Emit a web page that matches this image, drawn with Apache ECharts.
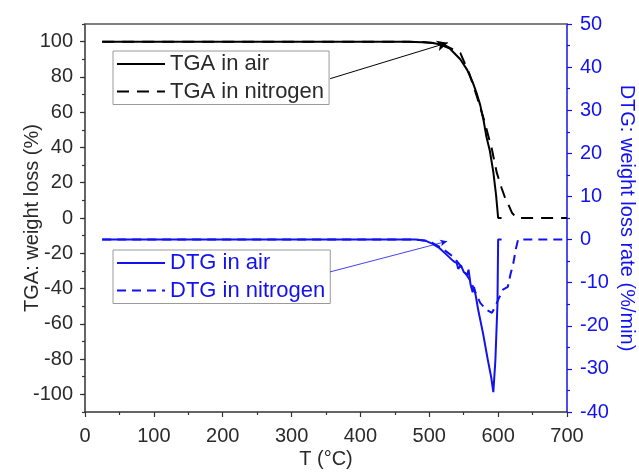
<!DOCTYPE html>
<html><head><meta charset="utf-8">
<script src="https://cdn.jsdelivr.net/npm/echarts@6/dist/echarts.min.js"></script>
<style>html,body{margin:0;padding:0;background:#fff}#c{width:639px;height:472px}</style>
</head><body><div id="c"></div>
<script>
// ---- data ----
const tgaAirT = [25, 100, 200, 300, 400, 450, 470, 490, 505, 515, 530, 545, 555, 563, 569, 574, 579, 583, 588, 593, 597, 600, 605];
const tgaAirV = [100, 100, 100, 100, 100, 100, 99.9, 99.7, 99.2, 98.5, 96, 90, 84, 77, 70.5, 64, 55, 46, 38, 26, 13, 0, 0];
const tgaN2T = [25, 100, 200, 300, 400, 450, 470, 490, 510, 525, 545, 558, 569, 580, 591, 598, 605, 610, 615, 620, 627, 640, 700];
const tgaN2V = [100, 100, 100, 100, 100, 100, 99.9, 99.8, 99.2, 97.5, 93.6, 82, 69, 55, 38.8, 25.7, 17, 11.5, 7.5, 3, 0, 0, 0];
const dtgAirT = [25, 100, 200, 300, 400, 480, 495, 505, 515, 525, 535, 540, 542, 546, 550, 555, 557, 560, 563, 565, 568, 571, 578, 585, 590, 593, 596, 599, 600, 605];
const dtgAirV = [0, 0, 0, 0, 0, 0, -0.3, -1, -2, -3.5, -5, -5.5, -6.8, -6, -7.5, -8.2, -7, -10.5, -12.2, -11, -13.5, -16.3, -21.7, -27.9, -32, -35.4, -28, -15, 0, 0];
const dtgN2T = [25, 100, 200, 300, 400, 480, 495, 505, 515, 525, 535, 545, 559, 565, 574, 583, 591, 596, 600, 607, 614, 618, 622, 626, 629, 700];
const dtgN2V = [0, 0, 0, 0, 0, 0, -0.3, -0.8, -1.7, -2.8, -4, -6, -9.4, -11.5, -14.7, -16.3, -17, -15.5, -14, -11.6, -11, -8, -5.5, -2, 0, 0];
// x axis / y axis ranges and ticks
const xRange = [0, 700, 100];
const tgaRange = [-100, 100, 20];
const dtgRange = [-40, 50, 10];
// legend labels and axis titles
const seriesNames = ['TGA in air', 'TGA in nitrogen', 'DTG in air', 'DTG in nitrogen'];
const axisTitles = ['T (°C)', 'TGA: weight loss (%)', 'DTG: weight loss rate (%/min)'];
// annotation arrows (data coordinates): [fromT, fromV, toT, toV]
const tgaArrow = [356, 79, 527, 99.4];
const dtgArrow = [356, -7.5, 526, -0.4];

const zip = (a, b) => a.map((v, i) => [v, b[i]]);
const FONT = 'Liberation Sans, Arial, sans-serif';
const BLUE = '#1212f0';
const DARK = '#2a2a2a';

const chart = echarts.init(document.getElementById('c'), null, {renderer: 'canvas'});
const G = {left: 85, right: 72, top: 24, bottom: 60};
const gh = 472 - G.top - G.bottom;
const pad = gh * 10 / 220;

const legendBase = {
  left: 113, orient: 'vertical', borderColor: '#9a9a9a', borderWidth: 1, padding: [2, 5, 2, 3],
  itemWidth: 48, itemHeight: 14, itemGap: 5.5, itemStyle: {opacity: 0}, selectedMode: false
};

chart.setOption({
  animation: false,
  textStyle: {fontFamily: FONT},
  grid: [
    {left: G.left, right: G.right, top: G.top, bottom: G.bottom, containLabel: false, outerBoundsMode: 'none'},
    {left: G.left, right: G.right, top: G.top + pad, bottom: G.bottom + pad, containLabel: false, outerBoundsMode: 'none'}
  ],
  legend: [
    Object.assign({}, legendBase, {data: [seriesNames[0], seriesNames[1]], top: 51,
      textStyle: {fontSize: 22, lineHeight: 22, color: DARK, fontFamily: FONT}}),
    Object.assign({}, legendBase, {data: [seriesNames[2], seriesNames[3]], top: 250,
      textStyle: {fontSize: 22, lineHeight: 22, color: BLUE, fontFamily: FONT}})
  ],
  xAxis: [
    {gridIndex: 0, type: 'value', min: xRange[0], max: xRange[1], interval: xRange[2],
     axisLine: {onZero: false, lineStyle: {color: '#333', width: 1.5}},
     axisTick: {length: 5, lineStyle: {color: '#333', width: 1.2}},
     minorTick: {show: true, splitNumber: 2, length: 3, lineStyle: {color: '#333', width: 1.2}},
     splitLine: {show: false},
     axisLabel: {fontSize: 20, color: DARK, margin: 14, fontFamily: FONT},
     name: axisTitles[0], nameLocation: 'middle', nameGap: 37, nameMoveOverlap: false,
     nameTextStyle: {fontSize: 20, color: DARK, fontFamily: FONT}},
    {gridIndex: 0, type: 'value', position: 'top', min: xRange[0], max: xRange[1],
     axisLine: {onZero: false, lineStyle: {color: '#555', width: 1.5}},
     axisTick: {show: false}, axisLabel: {show: false}, splitLine: {show: false}},
    {gridIndex: 1, type: 'value', min: xRange[0], max: xRange[1], show: false}
  ],
  yAxis: [
    {gridIndex: 0, type: 'value', min: -110, max: 110, interval: 10, position: 'left',
     axisLine: {show: true, onZero: false, lineStyle: {color: '#333', width: 1.5}},
     axisTick: {length: 3, lineStyle: {color: '#333', width: 1.2}},
     axisLabel: {show: false}, splitLine: {show: false}},
    {gridIndex: 1, type: 'value', min: tgaRange[0], max: tgaRange[1], interval: tgaRange[2], position: 'left',
     axisLine: {show: false, onZero: false},
     axisTick: {show: true, length: 5, lineStyle: {color: '#333', width: 1.2}},
     axisLabel: {fontSize: 20, color: DARK, margin: 12, fontFamily: FONT}, splitLine: {show: false},
     name: axisTitles[1], nameLocation: 'middle', nameGap: 43, nameRotate: 90, nameMoveOverlap: false,
     nameTextStyle: {fontSize: 20, color: DARK, fontFamily: FONT}},
    {gridIndex: 0, type: 'value', min: dtgRange[0], max: dtgRange[1], interval: dtgRange[2], position: 'right',
     axisLine: {show: true, onZero: false, lineStyle: {color: BLUE, width: 1.5}},
     axisTick: {length: 5, lineStyle: {color: BLUE, width: 1.2}},
     minorTick: {show: true, splitNumber: 2, length: 3, lineStyle: {color: BLUE, width: 1.2}},
     axisLabel: {fontSize: 20, color: BLUE, margin: 13, fontFamily: FONT}, splitLine: {show: false},
     name: axisTitles[2], nameLocation: 'middle', nameGap: 50, nameRotate: -90, nameMoveOverlap: false,
     nameTextStyle: {fontSize: 20, color: BLUE, fontFamily: FONT}}
  ],
  series: [
    {type: 'line', name: seriesNames[0], xAxisIndex: 0, yAxisIndex: 0, data: zip(tgaAirT, tgaAirV),
     symbol: 'none', itemStyle: {color: '#000'}, lineStyle: {color: '#000', width: 2},
     markLine: {silent: true, symbol: ['none', 'arrow'], symbolSize: [8, 11],
       lineStyle: {color: '#000', width: 1, type: 'solid'}, label: {show: false},
       data: [[{coord: [tgaArrow[0], tgaArrow[1]]}, {coord: [tgaArrow[2], tgaArrow[3]]}]]}},
    {type: 'line', name: seriesNames[1], xAxisIndex: 0, yAxisIndex: 0, data: zip(tgaN2T, tgaN2V),
     symbol: 'none', itemStyle: {color: '#000'}, lineStyle: {color: '#000', width: 2, type: [12, 8]}},
    {type: 'line', name: seriesNames[2], xAxisIndex: 0, yAxisIndex: 2, data: zip(dtgAirT, dtgAirV),
     symbol: 'none', itemStyle: {color: BLUE}, lineStyle: {color: BLUE, width: 2},
     markLine: {silent: true, symbol: ['none', 'arrow'], symbolSize: [5, 7],
       lineStyle: {color: BLUE, width: 0.8, type: 'solid'}, label: {show: false},
       data: [[{coord: [dtgArrow[0], dtgArrow[1]]}, {coord: [dtgArrow[2], dtgArrow[3]]}]]}},
    {type: 'line', name: seriesNames[3], xAxisIndex: 0, yAxisIndex: 2, data: zip(dtgN2T, dtgN2V),
     symbol: 'none', itemStyle: {color: BLUE}, lineStyle: {color: BLUE, width: 2, type: [9, 6]}}
  ]
});
</script>
</body></html>
